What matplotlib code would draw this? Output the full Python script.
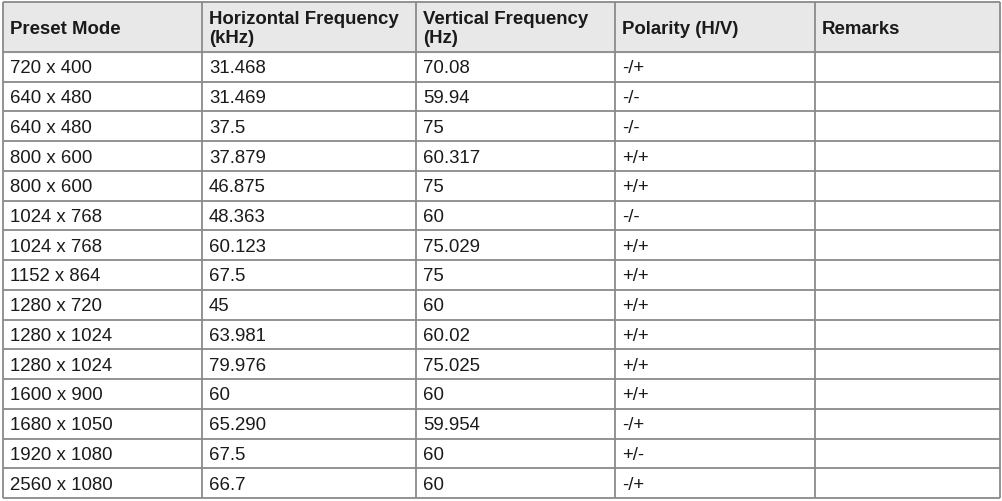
import matplotlib.pyplot as plt

# Table contents
headers = ['Preset Mode', 'Horizontal Frequency\n(kHz)', 'Vertical Frequency\n(Hz)', 'Polarity (H/V)', 'Remarks']
modes = ['720 x 400', '640 x 480', '640 x 480', '800 x 600', '800 x 600', '1024 x 768', '1024 x 768',
         '1152 x 864', '1280 x 720', '1280 x 1024', '1280 x 1024', '1600 x 900', '1680 x 1050',
         '1920 x 1080', '2560 x 1080']
h_freq = ['31.468', '31.469', '37.5', '37.879', '46.875', '48.363', '60.123', '67.5', '45',
          '63.981', '79.976', '60', '65.290', '67.5', '66.7']
v_freq = ['70.08', '59.94', '75', '60.317', '75', '60', '75.029', '75', '60', '60.02', '75.025',
          '60', '59.954', '60', '60']
polarity = ['-/+', '-/-', '-/-', '+/+', '+/+', '-/-', '+/+', '+/+', '+/+', '+/+', '+/+', '+/+',
            '-/+', '+/-', '-/+']
remarks = [''] * len(modes)

plt.rcParams['font.family'] = ['Liberation Sans', 'DejaVu Sans']

fig = plt.figure(figsize=(10.03, 5.02), dpi=100)
ax = fig.add_axes([0, 0, 1, 1])
ax.set_xlim(0, 1003)
ax.set_ylim(502, 0)
ax.axis('off')

col_x = [3, 202, 416, 615, 815, 1000]
top, head_bot, bottom = 3, 53, 499
n = len(modes)
row_h = (bottom - head_bot) / n
row_y = [head_bot + i * row_h for i in range(n + 1)]

ax.fill_between([col_x[0], col_x[-1]], top, head_bot, color='#e8e8e8', zorder=0)
line_kw = dict(color='#8a8a8a', lw=1.3)
ax.hlines([top] + row_y, col_x[0], col_x[-1], **line_kw)
ax.vlines(col_x, top, bottom, **line_kw)

for j, h in enumerate(headers):
    ax.text(col_x[j] + 7, (top + head_bot) / 2 + 1, h, fontsize=13.4, fontweight='bold',
            va='center', ha='left', color='#1a1a1a', linespacing=1.2)

columns = [modes, h_freq, v_freq, polarity, remarks]
for j, col in enumerate(columns):
    for i, val in enumerate(col):
        ax.text(col_x[j] + 7, row_y[i] + row_h / 2 + 1, val, fontsize=13.4,
                va='center', ha='left', color='#1a1a1a')

fig.savefig('out.png', dpi=100)
